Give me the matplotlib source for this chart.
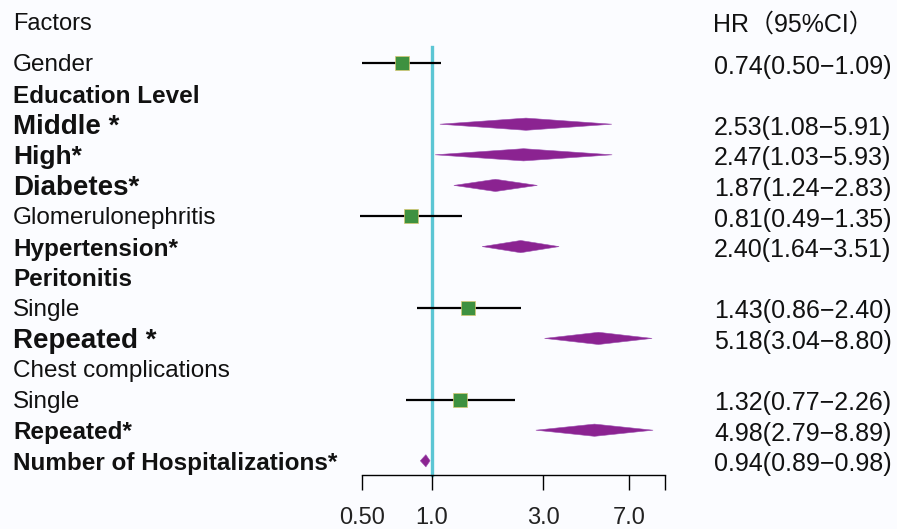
import numpy as np
import matplotlib
matplotlib.use("Agg")
import matplotlib.pyplot as plt
from matplotlib import transforms

plt.rcParams['font.family'] = ['Liberation Sans', 'Noto Sans CJK SC', 'DejaVu Sans']

# rows from top to bottom
labels = ['Gender', 'Education Level', 'Middle *', 'High*', 'Diabetes*',
          'Glomerulonephritis', 'Hypertension*', 'Peritonitis', 'Single',
          'Repeated *', 'Chest complications', 'Single', 'Repeated*',
          'Number of Hospitalizations*']
weights = ['normal', 'bold', 'bold', 'bold', 'bold', 'normal', 'bold', 'bold',
           'normal', 'bold', 'normal', 'normal', 'bold', 'bold']
sizes = [17.5, 17.5, 20, 19, 20, 17.5, 17.5, 17.5, 17.5, 20, 17.5, 17.5, 17.5, 17.5]

hr = [0.74, None, 2.53, 2.47, 1.87, 0.81, 2.40, None, 1.43, 5.18, None, 1.32, 4.98, 0.94]
lo = [0.50, None, 1.08, 1.03, 1.24, 0.49, 1.64, None, 0.86, 3.04, None, 0.77, 2.79, 0.89]
hi = [1.09, None, 5.91, 5.93, 2.83, 1.35, 3.51, None, 2.40, 8.80, None, 2.26, 8.89, 0.98]
# significant -> diamond, otherwise square with CI line
signif = [False, None, True, True, True, False, True, None, False, True, None, False, True, True]

xticks = [0.5, 1.0, 3.0, 7.0, 10.0]
xticklabels = ['0.50', '1.0', '3.0', '7.0', '']

W, H = 897, 529
fig = plt.figure(figsize=(W / 100, H / 100), dpi=100, facecolor='#FBFCFF')

# pixel geometry of the reference
row0, step = 63.0, 30.6
def prow(py):
    return (py - row0) / step

x_left, x_right = 362, 665
ax = fig.add_axes([x_left / W, 0, (x_right - x_left) / W, 1])
ax.set_facecolor('none')
ax.set_xscale('log')
ax.set_xlim(0.5, 10)
ax.set_ylim(prow(H), prow(0))

green = '#3E9140'
purple = '#8B2391'
cyan = '#5CC6D4'

axis_y = prow(475)
ax.plot([1, 1], [prow(47), axis_y], color=cyan, lw=2.4, zorder=1)

dh = 0.2
for i in range(len(labels)):
    if hr[i] is None:
        continue
    if signif[i]:
        ax.fill([lo[i], hr[i], hi[i], hr[i]], [i, i - dh, i, i + dh],
                color=purple, lw=0.4, ec='#9C4FB0', zorder=3, clip_on=False)
    else:
        ax.plot([lo[i], hi[i]], [i, i], color='black', lw=1.6, zorder=2,
                clip_on=False, solid_capstyle='butt')
        ax.plot(hr[i], i, marker='s', ms=10, color=green, mec='#D8C870',
                mew=0.5, zorder=3, clip_on=False)

# x axis
for s in ['top', 'left', 'right']:
    ax.spines[s].set_visible(False)
ax.spines['bottom'].set_position(('data', axis_y))
ax.spines['bottom'].set_bounds(0.5, 10)
ax.spines['bottom'].set_linewidth(1.0)
ax.set_xticks(xticks)
ax.set_xticklabels(xticklabels)
ax.xaxis.set_minor_locator(matplotlib.ticker.NullLocator())
ax.tick_params(axis='x', direction='out', length=11, width=1.0, pad=12,
               labelsize=17, labelcolor='#222222')
ax.set_yticks([])

# text columns
dy = 0.08
tr = transforms.blended_transform_factory(fig.transFigure, ax.transData)
fig.text(13 / W, prow(22) + dy, 'Factors', transform=tr, fontsize=17, va='center',
         ha='left', color='#111111')
fig.text(713 / W, prow(22) + dy, 'HR（95%CI）', transform=tr, fontsize=18, va='center',
         ha='left', color='#111111')
for i, lab in enumerate(labels):
    fig.text(13 / W, i + dy, lab, transform=tr, fontsize=sizes[i], fontweight=weights[i],
             va='center', ha='left', color='#111111')
    if hr[i] is not None:
        s = f'{hr[i]:.2f}({lo[i]:.2f}\u2212{hi[i]:.2f})'
        fig.text(714 / W, i + dy + 0.04, s, transform=tr, fontsize=18, va='center',
                 ha='left', color='#111111')

fig.savefig('out.png', dpi=100, facecolor=fig.get_facecolor())
